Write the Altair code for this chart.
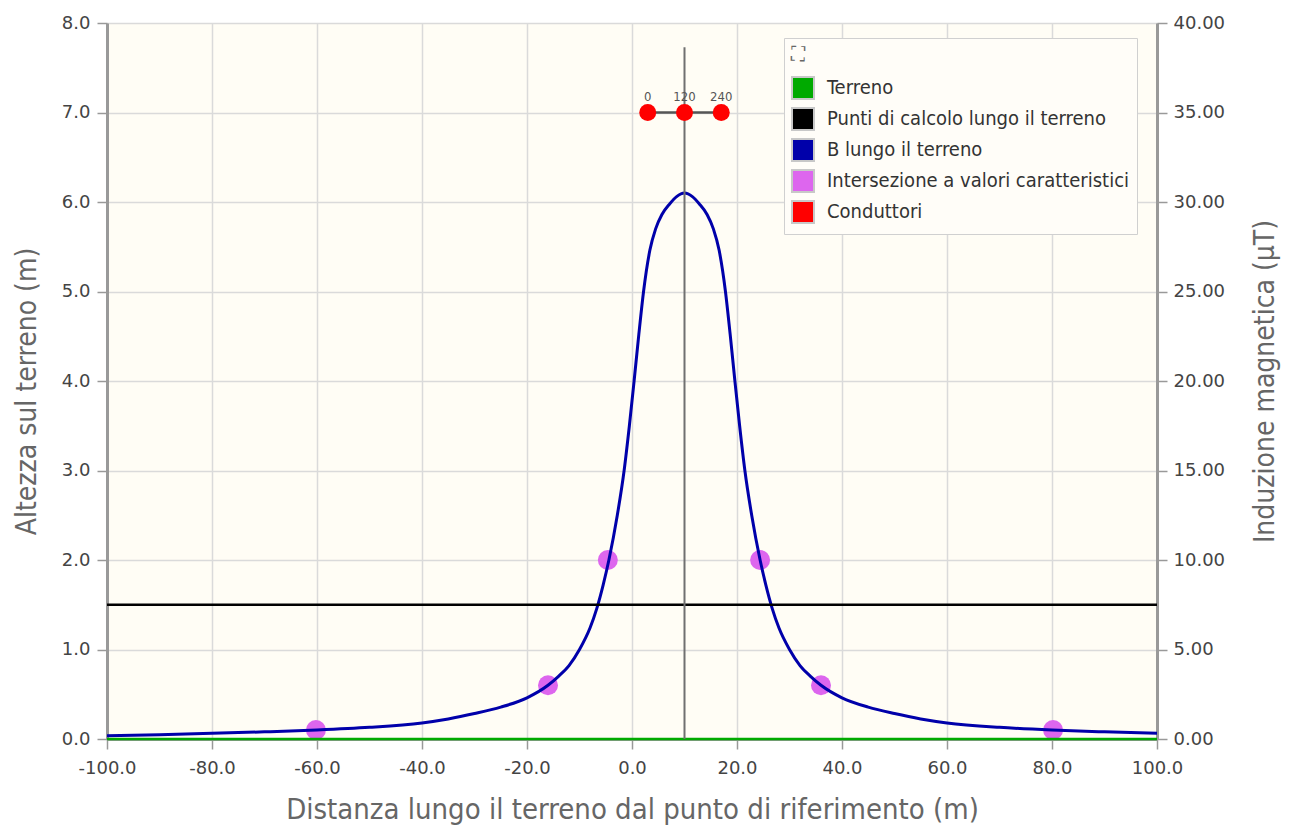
import altair as alt
import pandas as pd

# ---------------- data ----------------
x_range = [-100, 100]
terreno_y = [0, 0]
punti_y = [1.5, 1.5]

b_x = [-100, -90, -80, -70, -60, -50, -40, -35, -30, -25,
       -20, -16, -14, -12, -10, -8, -6.7, -5.5, -4.4, -2.8,
       -1.5, -0.5, 0.4, 1.3, 2.2, 3.4, 4.5, 5.7, 7.2, 8.5,
       10,
       11.5, 12.8, 14.3, 15.5, 16.6, 17.8, 18.7, 19.6, 20.5, 21.5,
       22.8, 24.4, 25.5, 26.7, 28, 30, 32, 34, 36, 40,
       45, 50, 55, 60, 70, 80, 90, 100]
b_val = [0.18, 0.24, 0.32, 0.40, 0.50, 0.65, 0.90, 1.12, 1.42, 1.78,
         2.3, 3.0, 3.5, 4.1, 5.0, 6.2, 7.3, 8.6, 10.0, 12.5,
         15.0, 17.5, 20.0, 22.6, 25.0, 27.3, 28.5, 29.3, 29.9, 30.3,
         30.5,
         30.3, 29.9, 29.3, 28.5, 27.3, 25.0, 22.6, 20.0, 17.5, 15.0,
         12.5, 10.0, 8.6, 7.3, 6.2, 5.0, 4.1, 3.5, 3.0, 2.3,
         1.78, 1.42, 1.12, 0.9, 0.65, 0.5, 0.4, 0.32]

inter_x = [-60.2, -16.0, -4.6, 24.4, 36.0, 80.2]
inter_b = [0.5, 3.0, 10.0, 10.0, 3.0, 0.5]

cond_x = [3, 10, 17]
cond_y = [7.0, 7.0, 7.0]
cond_lab = ["0", "120", "240"]

pylon_x = 10
pylon_top = 7.73
arm_x = [3, 17]
arm_y = 7.0

series = ["Terreno", "Punti di calcolo lungo il terreno", "B lungo il terreno",
          "Intersezione a valori caratteristici", "Conduttori"]
series_colors = ["#00aa00", "#000000", "#0000aa", "#dd66ee", "#ff0000"]

x_title = "Distanza lungo il terreno dal punto di riferimento (m)"
y_title = "Altezza sul terreno (m)"
b_title = "Induzione magnetica (μT)"

FONT = "DejaVu Sans Condensed, Liberation Sans Narrow, sans-serif"
NUMFONT = "DejaVu Sans, sans-serif"

# ---------------- frames ----------------
df_terreno = pd.DataFrame({"x": x_range, "y": terreno_y})
df_punti = pd.DataFrame({"x": x_range, "y": punti_y})
df_b = pd.DataFrame({"x": b_x, "b": b_val})
df_int = pd.DataFrame({"x": inter_x, "b": inter_b})
df_cond = pd.DataFrame({"x": cond_x, "y": cond_y, "lab": cond_lab})
df_pylon = pd.DataFrame({"x": [pylon_x], "y": [0.0], "y2": [pylon_top]})
df_arm = pd.DataFrame({"x": [arm_x[0]], "x2": [arm_x[1]], "y": [arm_y]})
df_leg = pd.DataFrame({"serie": series, "x": [0] * 5, "y": [0] * 5})

common_axis = dict(labelFont=NUMFONT, titleFont=FONT, labelFontSize=18, labelColor="#444",
                   titleColor="#666", titleFontWeight="normal", labelFlush=False,
                   tickSize=10, tickColor="#999", tickWidth=1.5,
                   domainColor="#999", domainWidth=3)

X = alt.X("x:Q", scale=alt.Scale(domain=[-100, 100], nice=False),
          axis=alt.Axis(values=list(range(-100, 101, 20)),
                        labelExpr="replace(format(datum.value, '.1f'), '\u2212', '-')",
                        grid=True, gridColor="#dadada", gridWidth=1.5, labelPadding=10,
                        titlePadding=18, titleFontSize=29, **common_axis),
          title=x_title)
Y = alt.Y("y:Q", scale=alt.Scale(domain=[0, 8], nice=False),
          axis=alt.Axis(orient="left", values=list(range(0, 9)), format=".1f", grid=True,
                        gridColor="#dadada", gridWidth=1.5, labelPadding=7,
                        titlePadding=20, titleFontSize=28, titleY=368, **common_axis),
          title=y_title)
B = alt.Y("b:Q", scale=alt.Scale(domain=[0, 40], nice=False),
          axis=alt.Axis(orient="right", values=list(range(0, 41, 5)), format=".2f", grid=False,
                        labelPadding=6, titlePadding=55, titleAngle=270, titleFontSize=28,
                        **common_axis),
          title=b_title)

# right-scale group (drawn first, underneath)
pts = alt.Chart(df_int).mark_circle(size=400, color="#dd66ee", opacity=1).encode(x=X, y=B)
bline = alt.Chart(df_b).mark_line(color="#0000aa", strokeWidth=3, interpolate="monotone").encode(x=X, y=B)
right = alt.layer(pts, bline)

# left-scale group
terr = alt.Chart(df_terreno).mark_line(color="#00aa00", strokeWidth=2.5).encode(x=X, y=Y)
punti = alt.Chart(df_punti).mark_line(color="#000000", strokeWidth=2.5).encode(x=X, y=Y)
pylon = alt.Chart(df_pylon).mark_rule(color="#707070", strokeWidth=2).encode(x=X, y=Y, y2=alt.Y2("y2"))
arm = alt.Chart(df_arm).mark_rule(color="#555555", strokeWidth=2.5).encode(x=X, x2=alt.X2("x2"), y=Y)
cond = alt.Chart(df_cond).mark_circle(size=289, color="#ff0000", opacity=1).encode(x=X, y=Y)
cond_txt = alt.Chart(df_cond).mark_text(dy=-16, fontSize=13, color="#555", font=FONT).encode(
    x=X, y=Y, text="lab:N")
leg = alt.Chart(df_leg).mark_square(opacity=0, size=10).encode(
    x=X, y=Y,
    color=alt.Color("serie:N", scale=alt.Scale(domain=series, range=series_colors),
                    legend=alt.Legend(orient="none", legendX=677, legendY=15,
                                      title="⛶", titleFontSize=20, titleColor="#666",
                                      titlePadding=11, titleFontWeight="normal",
                                      symbolType="square", symbolSize=484,
                                      symbolOpacity=1, symbolStrokeColor="#c8c8c8",
                                      symbolStrokeWidth=2, labelFont=FONT,
                                      labelFontSize=20, labelColor="#333",
                                      labelOffset=12, rowPadding=1, padding=7,
                                      fillColor="#fffdf8", strokeColor="#d0d0d0",
                                      labelLimit=400)))
left = alt.layer(terr, punti, pylon, arm, cond, cond_txt, leg)

chart = alt.layer(right, left).resolve_scale(y="independent").properties(
    width=1050, height=716,
    autosize=alt.AutoSizeParams(type="none"),
    padding={"left": 99, "top": 15, "right": 124, "bottom": 86},
).configure_view(fill="#fffdf5", stroke="#c0c0c0", strokeWidth=1)

chart.save("out.html", embed_options={"renderer": "svg", "actions": False})
